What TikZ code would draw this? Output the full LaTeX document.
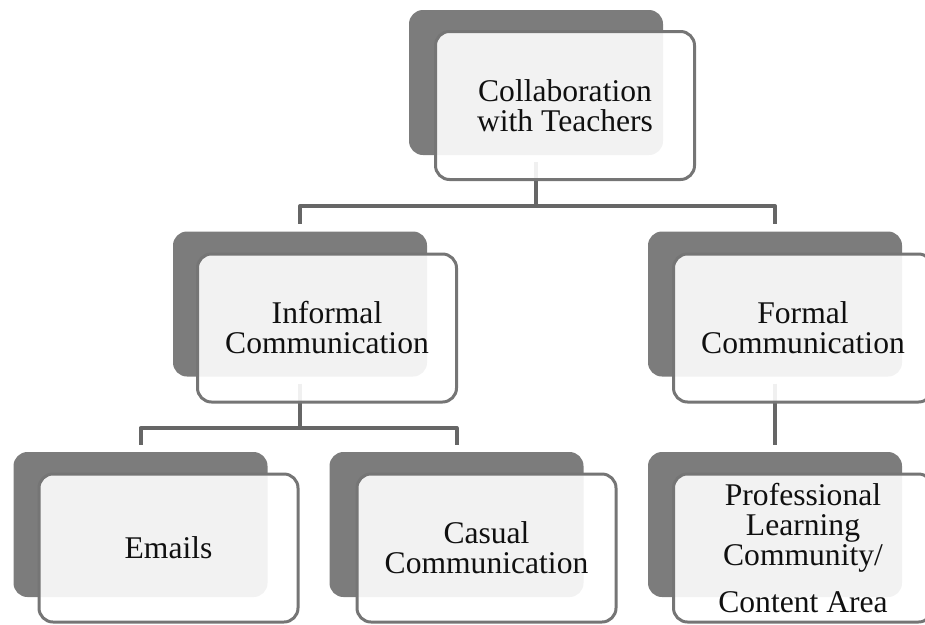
\documentclass[tikz,border=0pt]{standalone}
\usepackage{fontspec}
\usetikzlibrary{backgrounds}
\newfontfamily\boxfont{Liberation Serif}

\definecolor{backgray}{HTML}{7C7C7C}
\definecolor{edgegray}{HTML}{757575}
\definecolor{linegray}{HTML}{666666}
\definecolor{textblack}{HTML}{101010}

\tikzset{
  backbox/.style={rectangle, rounded corners=14pt, fill=backgray,
    minimum width=254pt, minimum height=145pt, inner sep=0pt},
  frontbox/.style={rectangle, rounded corners=14pt, fill=white, fill opacity=0.9,
    text opacity=1, draw=edgegray, line width=3pt,
    minimum width=259pt, minimum height=148pt, inner sep=0pt,
    align=center, text=textblack, font={\boxfont\fontsize{31.6}{30}\selectfont}},
  conn/.style={draw=linegray, line width=4pt, line join=round,
    shorten <=7pt, shorten >=7pt}
}

\begin{document}
\begin{tikzpicture}[x=1pt, y=-1pt]
  \useasboundingbox (0,0) rectangle (925,624);

  % root
  \node[backbox]  (topB) at (536,82.5) {};
  \node[frontbox] (topF) at (565,105.5) {Collaboration\\with Teachers};

  % second level
  \node[backbox]  (infB) at (300,304) {};
  \node[frontbox] (infF) at (327,328) {Informal\\Communication};
  \node[backbox]  (forB) at (775,304) {};
  \node[frontbox] (forF) at (803,328) {Formal\\Communication};

  % third level
  \node[backbox]  (emaB) at (140.5,524.5) {};
  \node[frontbox] (emaF) at (168.5,548) {Emails};
  \node[backbox]  (casB) at (456.5,524.5) {};
  \node[frontbox] (casF) at (486.5,548) {Casual\\Communication};
  \node[backbox]  (proB) at (775,524.5) {};
  \node[frontbox] (proF) at (803,548) {Professional\\Learning\\Community/\\[17pt]Content~Area};

  % junction points of the branch lines
  \coordinate (j1) at (536,206);
  \coordinate (j2) at (300,428);

  \begin{pgfonlayer}{background}
    \draw[conn] (topB.south) -- (j1) -| (infB.north);
    \draw[conn, shorten <=0pt] (j1) -| (forB.north);
    \draw[conn] (infB.south) -- (j2) -| (emaB.north);
    \draw[conn, shorten <=0pt] (j2) -| (casB.north);
    \draw[conn] (forB.south) -- (proB.north);
  \end{pgfonlayer}
\end{tikzpicture}
\end{document}
